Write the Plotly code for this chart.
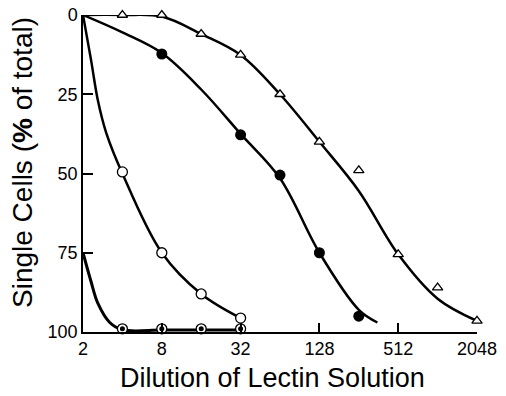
import plotly.graph_objects as go

# ---- data ----
x_tri = [4, 8, 16, 32, 64, 128, 256, 512, 1024, 2048]
y_tri = [0, 0, 6, 12.6, 25, 40, 49, 75.5, 86, 96.5]
x_tri_curve = [2, 4, 8, 16, 32, 64, 128, 256, 512, 1024, 2048]
y_tri_curve = [0, 0, 0.5, 6, 12.6, 25, 40, 55.5, 75.5, 89.5, 96.5]

x_fill = [2, 8, 32, 64, 128, 256]
y_fill = [0, 12.3, 37.8, 50.5, 75, 95]
x_fill_curve = [2, 4, 8, 16, 32, 64, 128, 256, 355]
y_fill_curve = [0, 5.5, 12, 23.5, 37.5, 51.5, 75, 93, 97]

x_open = [4, 8, 16, 32]
y_open = [49.5, 75, 88, 95.6]
x_open_curve = [2, 2.3, 2.6, 3, 4, 8, 16, 32]
y_open_curve = [0, 14, 27, 37, 50, 75, 88, 95.6]

x_dot = [2, 4, 8, 16, 32]
y_dot = [75, 99, 99, 99, 99]
x_dot_curve = [2, 2.3, 2.6, 3.2, 4, 8, 16, 32]
y_dot_curve = [75, 84, 91, 97, 99.3, 99.4, 99.4, 99.4]

x_ticks = [2, 8, 32, 128, 512, 2048]
y_ticks = [0, 25, 50, 75, 100]

FONT = "Liberation Sans, Arial, Helvetica, sans-serif"
BLACK = "#000000"

fig = go.Figure()

def curve(x, y, w=2.5):
    fig.add_trace(go.Scatter(x=x, y=y, mode="lines",
                             line=dict(color=BLACK, width=w, shape="spline"),
                             cliponaxis=False, hoverinfo="skip", showlegend=False))

curve(x_tri_curve, y_tri_curve)
curve(x_fill_curve, y_fill_curve)
curve(x_open_curve, y_open_curve)
curve(x_dot_curve, y_dot_curve, 3)

fig.add_trace(go.Scatter(x=x_tri, y=y_tri, mode="markers",
                         marker=dict(symbol="triangle-up", size=9, color="white",
                                     line=dict(color=BLACK, width=1.3)),
                         cliponaxis=False, showlegend=False))
fig.add_trace(go.Scatter(x=x_open, y=y_open, mode="markers",
                         marker=dict(symbol="circle", size=10, color="white",
                                     line=dict(color=BLACK, width=1.3)),
                         cliponaxis=False, showlegend=False))
fig.add_trace(go.Scatter(x=x_dot, y=y_dot, mode="markers",
                         marker=dict(symbol="circle", size=10, color="white",
                                     line=dict(color=BLACK, width=1.3)),
                         cliponaxis=False, showlegend=False))
fig.add_trace(go.Scatter(x=x_dot, y=y_dot, mode="markers",
                         marker=dict(symbol="circle", size=5, color=BLACK),
                         cliponaxis=False, showlegend=False))
fig.add_trace(go.Scatter(x=x_fill, y=y_fill, mode="markers",
                         marker=dict(symbol="circle", size=11, color=BLACK),
                         cliponaxis=False, showlegend=False))

L, R, T, B = 83, 29, 15, 64
W, H = 506, 396
pw, ph = W - L - R, H - T - B

fig.update_layout(
    template="none",
    width=W, height=H,
    margin=dict(l=L, r=R, t=T, b=B),
    paper_bgcolor="white", plot_bgcolor="white",
    font=dict(family=FONT, color=BLACK),
    xaxis=dict(type="log", range=[0.30103, 3.31133], automargin=False,
               tickvals=x_ticks, ticktext=[str(v) for v in x_ticks],
               ticks="inside", ticklen=9, tickwidth=1.5, tickcolor=BLACK,
               showline=True, linecolor=BLACK, linewidth=1.5,
               showgrid=False, zeroline=False,
               tickfont=dict(size=18, family=FONT)),
    yaxis=dict(range=[100, 0], automargin=False,
               tickvals=y_ticks, ticktext=[str(v) for v in y_ticks],
               ticks="inside", ticklen=10, tickwidth=1.5, tickcolor=BLACK,
               showline=True, linecolor=BLACK, linewidth=1.5,
               showgrid=False, zeroline=False,
               tickfont=dict(size=18, family=FONT)),
    annotations=[
        dict(text="Dilution of Lectin Solution", xref="paper", yref="paper",
             x=(272 - L) / pw, y=-(378 - (T + ph)) / ph, xanchor="center", yanchor="middle",
             showarrow=False, font=dict(size=27, family=FONT, color=BLACK)),
        dict(text="Single Cells (<b>%</b> of total)", xref="paper", yref="paper",
             x=(22 - L) / pw, y=1 - (163 - T) / ph, xanchor="center", yanchor="middle",
             textangle=-90, showarrow=False, font=dict(size=28, family=FONT, color=BLACK)),
    ],
)

fig.write_html("out.html")
